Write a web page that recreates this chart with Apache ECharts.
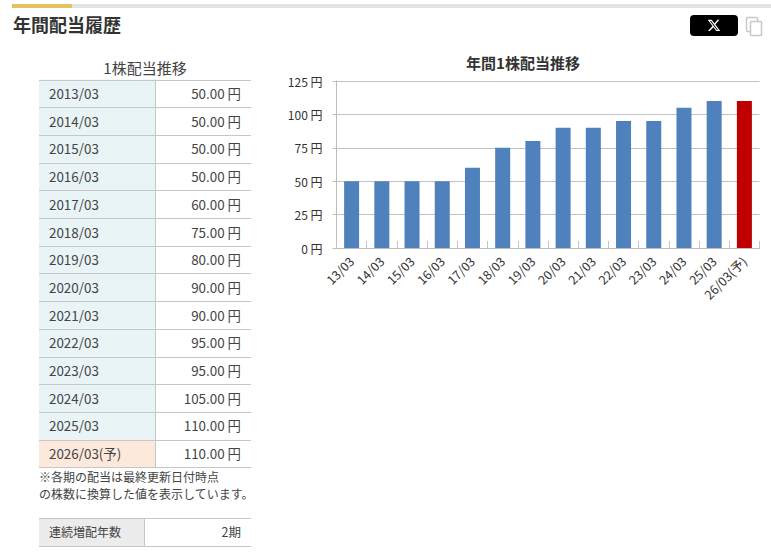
<!DOCTYPE html>
<html><head><meta charset="utf-8">
<style>html,body{margin:0;padding:0;background:#fff}#c{width:771px;height:557px}</style>
<script src="https://cdn.jsdelivr.net/npm/echarts@6/dist/echarts.min.js"></script>
</head><body><div id="c"></div>
<script>
const periods = ['2013/03','2014/03','2015/03','2016/03','2017/03','2018/03','2019/03','2020/03','2021/03','2022/03','2023/03','2024/03','2025/03','2026/03(予)'];
const tableValues = ['50.00 円','50.00 円','50.00 円','50.00 円','60.00 円','75.00 円','80.00 円','90.00 円','90.00 円','95.00 円','95.00 円','105.00 円','110.00 円','110.00 円'];
const categories = ['13/03','14/03','15/03','16/03','17/03','18/03','19/03','20/03','21/03','22/03','23/03','24/03','25/03','26/03(予)'];
const dividends = [50,50,50,50,60,75,80,90,90,95,95,105,110,110];
const forecastFlags = [0,0,0,0,0,0,0,0,0,0,0,0,0,1];

const FONT = '"Noto Sans CJK JP","Noto Sans",sans-serif';
const txt = (text,x,y,size,fill,align,weight) => ({type:'text',silent:true,style:{text,x,y,fill,font:(weight||'normal')+' '+size+'px '+FONT,textAlign:align||'left',textVerticalAlign:'middle'}});
const rect = (x,y,width,height,fill,r) => ({type:'rect',silent:true,shape:{x,y,width,height,r:r||0},style:{fill}});
const hline = (x1,x2,y,c) => ({type:'line',silent:true,shape:{x1,y1:y,x2,y2:y},style:{stroke:c||'#c4c8c8',lineWidth:1}});
const vline = (x,y1,y2,c) => ({type:'line',silent:true,shape:{x1:x,y1,x2:x,y2},style:{stroke:c||'#c4c8c8',lineWidth:1}});

echarts.graphic.registerShape('xLogo', echarts.graphic.extendPath('M18.244 2.25h3.308l-7.227 8.26 8.502 11.24H16.17l-5.214-6.817L4.99 21.75H1.68l7.73-8.835L1.254 2.25H8.08l4.713 6.231zm-1.161 17.52h1.833L7.084 4.126H5.117z',{}));

const g = [];
g.push(rect(12,4,759,4,'#e2e2e2'), rect(12,4,60,4,'#e3c362'));
g.push(txt('年間配当履歴',13,23.5,18,'#333','left','bold'));
g.push(rect(690,15,48,21,'#000',4));
g.push({type:'xLogo',silent:true,x:707,y:18.5,scaleX:0.58,scaleY:0.58,style:{fill:'#fff'}});
g.push({type:'rect',silent:true,shape:{x:746.5,y:17.5,width:11,height:14,r:1},style:{fill:'#fff',stroke:'#c8c8c8',lineWidth:1.5}});
g.push({type:'rect',silent:true,shape:{x:750.5,y:21.5,width:11,height:14,r:1},style:{fill:'#fff',stroke:'#c8c8c8',lineWidth:1.5}});

// dividend table
const tLeft=39, tMid=155.5, tRight=251, tTop=79.5, rowH=27.7;
g.push(txt('1株配当推移',145,67.5,15,'#444','center'));
periods.forEach((p,i)=>{
  const y=tTop+i*rowH;
  g.push(rect(tLeft,y,tMid-tLeft,rowH,forecastFlags[i]?'#fde9dc':'#e9f4f7'));
  g.push(txt(p,49,y+rowH/2-0.3,13.4,'#444'));
  g.push(txt(tableValues[i],241,y+rowH/2-0.3,13.4,'#444','right'));
});
for(let i=0;i<=periods.length;i++) g.push(hline(tLeft,tRight,Math.round(tTop+i*rowH)+0.5));
g.push(vline(tMid,tTop,tTop+periods.length*rowH));

g.push(txt('※各期の配当は最終更新日付時点',39,476,12,'#444'));
g.push(txt('の株数に換算した値を表示しています。',39,493,12,'#444'));

// consecutive-increase table
g.push(rect(39,518,105.5,28,'#ececec'));
g.push(hline(39,251,518.5), hline(39,251,546.5), vline(144.5,518,546));
g.push(txt('連続増配年数',49,531.5,12,'#444'));
g.push(txt('2期',241,531.5,12.5,'#444','right'));

const chart = echarts.init(document.getElementById('c'),null,{renderer:'svg'});
chart.setOption({
  animation:false,
  textStyle:{fontFamily:FONT},
  title:{text:'年間1株配当推移',left:518,top:50,textAlign:'center',textStyle:{fontSize:15,fontWeight:'bold',color:'#333',fontFamily:FONT}},
  grid:{left:336.5,right:11.5,top:81,height:167,containLabel:false},
  xAxis:{type:'category',data:categories,
    axisLine:{lineStyle:{color:'#bdbdbd',width:1}},
    axisTick:{show:true,inside:true,length:7,alignWithLabel:false,lineStyle:{color:'#c4c4c4'}},
    axisLabel:{rotate:45,interval:0,fontSize:12.5,color:'#333',margin:11,fontFamily:FONT}},
  yAxis:{type:'value',min:0,max:125,interval:25,
    axisLine:{show:true,lineStyle:{color:'#bdbdbd'}},
    axisTick:{show:true,length:4,lineStyle:{color:'#bdbdbd'}},
    splitLine:{lineStyle:{color:'#c2c2c2'}},
    axisLabel:{formatter:'{value} 円',fontSize:12,color:'#333',margin:14,fontFamily:FONT}},
  series:[{type:'bar',barWidth:15,data:dividends.map((v,i)=>({value:v,itemStyle:{color:forecastFlags[i]?'#c00000':'#4f81bd'}}))}],
  graphic:{elements:g}
});
</script></body></html>
